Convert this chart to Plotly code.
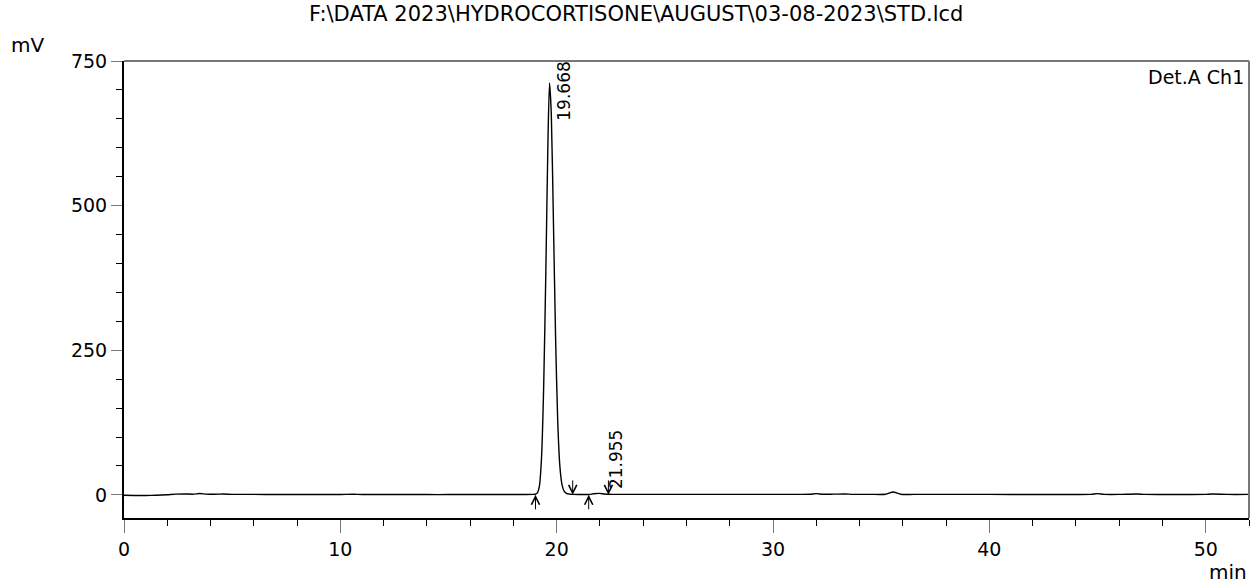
import plotly.graph_objects as go

# ---- data ----
time_min = [
    0.0, 0.5, 1.0, 1.5, 2.0, 2.4, 2.8, 3.2, 3.5, 3.8, 4.2, 4.6, 5.0, 6.0, 7.0, 8.0,
    9.0, 10.0, 10.6, 11.0, 12.0, 13.0, 14.0, 15.0, 16.0, 17.0, 18.0, 18.5, 18.9,
    19.0, 19.1, 19.2, 19.3, 19.4, 19.5, 19.6, 19.668, 19.75, 19.85, 19.95, 20.05,
    20.15, 20.25, 20.35, 20.45, 20.6, 20.75, 21.0, 21.3, 21.5, 21.7, 21.955, 22.2,
    22.4, 22.6, 23.0, 24.0, 25.0, 26.0, 27.0, 28.0, 29.0, 30.0, 31.0, 31.7, 32.0,
    32.3, 32.8, 33.3, 33.7, 34.5, 35.2, 35.55, 35.9, 36.5, 38.0, 40.0, 42.0, 44.0,
    44.7, 45.0, 45.3, 46.0, 46.8, 47.2, 48.0, 49.0, 50.0, 50.3, 51.0, 52.0,
]
signal_mv = [
    -0.8, -1.0, -1.0, -0.6, 0.3, 1.2, 1.5, 1.2, 2.3, 1.3, 1.0, 1.4, 0.9, 0.8, 0.7, 0.7,
    0.6, 0.6, 1.0, 0.6, 0.6, 0.7, 0.5, 0.5, 0.6, 0.6, 0.6, 0.7, 0.8,
    1.0, 3.0, 15.0, 65.0, 190.0, 390.0, 620.0, 712.0, 660.0, 470.0, 270.0, 125.0,
    48.0, 17.0, 6.0, 2.5, 1.2, 0.8, 0.6, 0.6, 0.7, 1.8, 2.6, 1.6,
    1.0, 0.9, 0.9, 0.8, 0.8, 0.8, 0.8, 0.8, 0.8, 0.8, 0.9, 1.0, 2.2,
    1.0, 1.2, 1.6, 0.9, 0.9, 1.0, 5.0, 1.0, 0.8, 0.8, 0.8, 0.7, 0.7,
    0.9, 2.2, 0.9, 0.8, 1.6, 0.8, 0.7, 0.7, 0.8, 1.4, 0.8, 0.8,
]

peak_labels = ["19.668", "21.955"]
peak_label_x = [20.34, 22.72]
peak_label_y = [697, 61]

marker_times = [19.02, 20.74, 21.48, 22.39]
marker_dirs = ["up", "down", "up", "down"]

title_text = "F:\\DATA 2023\\HYDROCORTISONE\\AUGUST\\03-08-2023\\STD.lcd"
FONT = "DejaVu Sans, Verdana, sans-serif"

fig = go.Figure()
fig.add_trace(go.Scatter(
    x=time_min, y=signal_mv, mode="lines",
    line=dict(color="black", width=1.4, shape="spline", smoothing=0.6),
    hoverinfo="x+y", showlegend=False,
))

annotations = []
for txt, lx, ly in zip(peak_labels, peak_label_x, peak_label_y):
    annotations.append(dict(
        x=lx, y=ly, xref="x", yref="y", text=txt, showarrow=False,
        textangle=-90, xanchor="center", yanchor="middle",
        font=dict(family=FONT, size=17, color="black"),
    ))
for t, d in zip(marker_times, marker_dirs):
    if d == "up":
        ax, ay = 0, 16
    else:
        ax, ay = 0, -16
    annotations.append(dict(
        x=t, y=0, xref="x", yref="y", text="", showarrow=True,
        ax=ax, ay=ay, axref="pixel", ayref="pixel",
        arrowhead=5, arrowsize=1.6, arrowwidth=1, arrowcolor="black",
        standoff=0, startstandoff=0,
    ))

fig.update_layout(
    width=1257, height=585,
    margin=dict(l=124, r=8, t=61, b=67),
    paper_bgcolor="white", plot_bgcolor="white",
    annotations=annotations,
    font=dict(family=FONT, size=18, color="black"),
    shapes=[
        dict(type="line", xref="paper", yref="paper", x0=0, x1=1, y0=1, y1=1,
             line=dict(color="#777777", width=2)),
        dict(type="line", xref="paper", yref="paper", x0=1, x1=1, y0=0, y1=1,
             line=dict(color="#777777", width=2)),
    ],
)

fig.add_annotation(x=(636 - 124) / 1125, y=1 + (61 - 14) / 457, xref="paper", yref="paper",
                   text=title_text, showarrow=False, xanchor="center", yanchor="middle",
                   font=dict(family=FONT, size=21))
fig.add_annotation(x=(9 - 124) / 1125, y=1 + 16 / 457, xref="paper", yref="paper", text="mV",
                   showarrow=False, xanchor="left", yanchor="middle",
                   font=dict(family=FONT, size=20))
fig.add_annotation(x=1.0, y=-0.119, xref="paper", yref="paper", text="min",
                   showarrow=False, xanchor="right", yanchor="middle",
                   font=dict(family=FONT, size=20))
fig.add_annotation(x=0.997, y=0.993, xref="paper", yref="paper", text="Det.A Ch1",
                   showarrow=False, xanchor="right", yanchor="top",
                   font=dict(family=FONT, size=19))

fig.update_xaxes(
    range=[0, 52], showgrid=False, zeroline=False,
    showline=True, linecolor="black", linewidth=2,
    ticks="outside", ticklen=13, tickcolor="#777777", tickwidth=1,
    tick0=0, dtick=10, tickfont=dict(family=FONT, size=19),
    minor=dict(ticks="outside", ticklen=6, tickcolor="black", dtick=2, tick0=0, showgrid=False),
)
fig.update_yaxes(
    range=[-40, 750], showgrid=False, zeroline=False,
    showline=True, linecolor="black", linewidth=2,
    ticks="outside", ticklen=11, tickcolor="#777777", tickwidth=1,
    tick0=0, dtick=250, tickfont=dict(family=FONT, size=19),
    minor=dict(ticks="outside", ticklen=6, tickcolor="black", dtick=50, tick0=0, showgrid=False),
)

fig.write_html("out.html")
